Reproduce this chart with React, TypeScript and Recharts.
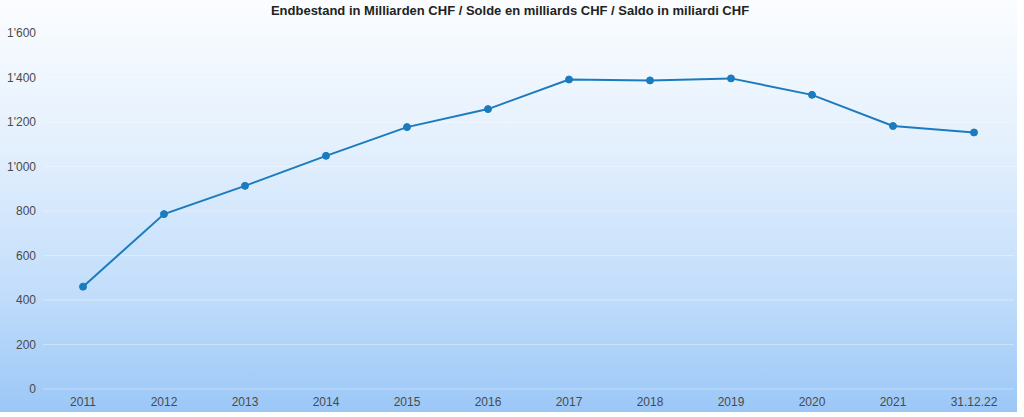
import React from "react";
import { LineChart, Line, XAxis, YAxis, CartesianGrid } from "recharts";

const categories = ["2011", "2012", "2013", "2014", "2015", "2016", "2017", "2018", "2019", "2020", "2021", "31.12.22"];
const balances = [460, 786, 913, 1048, 1177, 1258, 1391, 1387, 1396, 1322, 1182, 1153];
const yTicks = [0, 200, 400, 600, 800, 1000, 1200, 1400, 1600];
const title = "Endbestand in Milliarden CHF / Solde en milliards CHF / Saldo in miliardi CHF";

const data = categories.map((c, i) => ({ year: c, value: balances[i] }));

const fmt = (v: number) => {
  if (v >= 1000) {
    const th = Math.floor(v / 1000);
    const rest = String(v % 1000).padStart(3, "0");
    return `${th}'${rest}`;
  }
  return String(v);
};

export default function App() {
  return (
    <div style={{ position: "absolute", left: 0, top: 0, width: 1024, height: 417, background: "#ffffff", fontFamily: "'Liberation Sans', Arial, sans-serif" }}>
      <div
        style={{
          position: "absolute",
          left: 0,
          top: 0,
          width: 1017,
          height: 412,
          background: "linear-gradient(to bottom, #fbfdff 0%, #e4f0fd 35%, #c3defb 70%, #9bc7f7 100%)",
        }}
      />
      <div
        style={{
          position: "absolute",
          left: 0,
          top: 2,
          width: 1020,
          textAlign: "center",
          fontSize: 13,
          fontWeight: "bold",
          color: "#222",
          lineHeight: "17px",
        }}
      >
        {title}
      </div>
      <div style={{ position: "absolute", left: 0, top: 0 }}>
        <LineChart width={1024} height={417} data={data} margin={{ top: 33, right: 10, bottom: 0, left: 0 }}>
          <CartesianGrid vertical={false} stroke="#ffffff" strokeOpacity={0.35} />
          <XAxis
            dataKey="year"
            axisLine={false}
            tickLine={false}
            tickSize={0}
            tickMargin={8}
            height={28}
            padding={{ left: 40, right: 40 }}
            interval={0}
            tick={{ fill: "#4a4a4a", fontSize: 12 }}
          />
          <YAxis
            domain={[0, 1600]}
            ticks={yTicks}
            axisLine={false}
            tickLine={false}
            tickSize={0}
            tickMargin={7}
            width={43}
            tickFormatter={fmt}
            tick={{ fill: "#4a4a4a", fontSize: 12 }}
          />
          <Line
            type="linear"
            dataKey="value"
            stroke="#1b7bbf"
            strokeWidth={2}
            dot={{ r: 3.5, fill: "#1b7bbf", stroke: "#1b7bbf", strokeWidth: 1 }}
            isAnimationActive={false}
          />
        </LineChart>
      </div>
    </div>
  );
}
